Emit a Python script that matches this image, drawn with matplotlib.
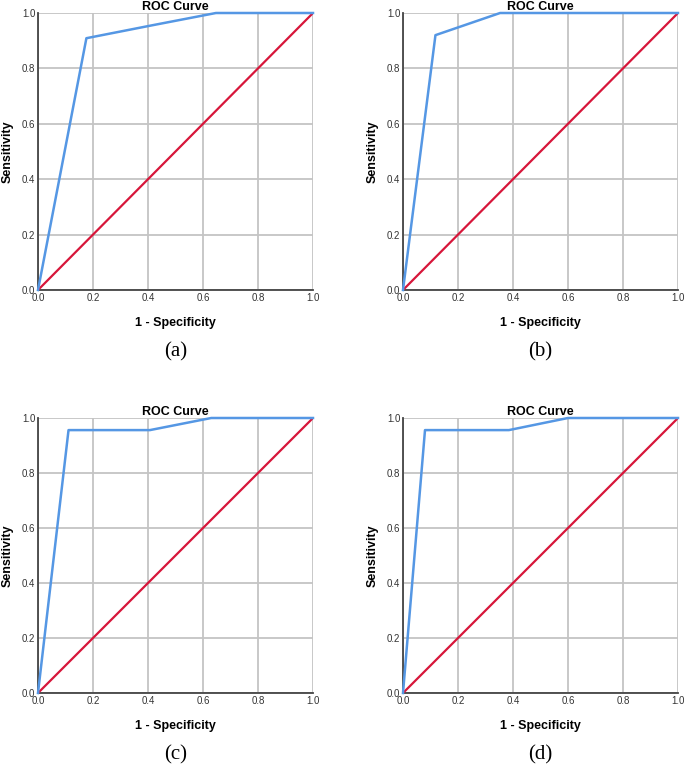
import numpy as np
import matplotlib.pyplot as plt

plt.rcParams['font.family'] = ['Liberation Sans', 'DejaVu Sans']

# ROC points (1 - specificity, sensitivity)
fpr_a = [0.0, 0.176, 0.412, 0.647, 1.0]
tpr_a = [0.0, 0.909, 0.955, 1.0, 1.0]
fpr_b = [0.0, 0.118, 0.353, 1.0]
tpr_b = [0.0, 0.92, 1.0, 1.0]
fpr_c = [0.0, 0.111, 0.407, 0.63, 1.0]
tpr_c = [0.0, 0.956, 0.956, 1.0, 1.0]
fpr_d = [0.0, 0.08, 0.385, 0.60, 1.0]
tpr_d = [0.0, 0.956, 0.956, 1.0, 1.0]

panels = [(fpr_a, tpr_a, '(a)'), (fpr_b, tpr_b, '(b)'),
          (fpr_c, tpr_c, '(c)'), (fpr_d, tpr_d, '(d)')]
ticks = [0.0, 0.2, 0.4, 0.6, 0.8, 1.0]

W, H = 685, 768
fig = plt.figure(figsize=(W / 100, H / 100), dpi=100)

# axes boxes in pixels: left, top, right, bottom
boxes = [(38, 13, 313, 290), (403, 13, 678, 290),
         (38, 418, 313, 693), (403, 418, 678, 693)]

for (fpr, tpr, tag), (l, t, r, b) in zip(panels, boxes):
    ax = fig.add_axes([l / W, 1 - b / H, (r - l) / W, (b - t) / H])
    ax.plot([0, 1], [0, 1], color='#d7163a', lw=1.6, zorder=3)
    ax.plot(fpr, tpr, color='#5597e4', lw=1.8, zorder=4, clip_on=False)
    ax.set_xlim(0, 1)
    ax.set_ylim(0, 1)
    ax.set_xticks(ticks)
    ax.set_yticks(ticks)
    ax.set_xticklabels([f'{v:.1f}' for v in ticks])
    ax.set_yticklabels([f'{v:.1f}' for v in ticks])
    ax.tick_params(length=0, labelsize=7, colors='#333333', pad=2)
    ax.grid(True, color='#c4c4c4', lw=1.3)
    ax.set_axisbelow(True)
    for s in ['top', 'right']:
        ax.spines[s].set_visible(False)
    for s in ['left', 'bottom']:
        ax.spines[s].set_color('#444444')
        ax.spines[s].set_linewidth(1.3)
    ax.set_title('ROC Curve', fontsize=9, fontweight='bold', pad=1)
    ax.set_xlabel('1 - Specificity', fontsize=9, fontweight='bold', labelpad=10)
    ax.set_ylabel('Sensitivity', fontsize=9, fontweight='bold', labelpad=6)
    ax.text(0.5, -0.225, tag, transform=ax.transAxes, ha='center', va='center',
            fontsize=15, family='Liberation Serif')

fig.savefig('out.png', dpi=100)
